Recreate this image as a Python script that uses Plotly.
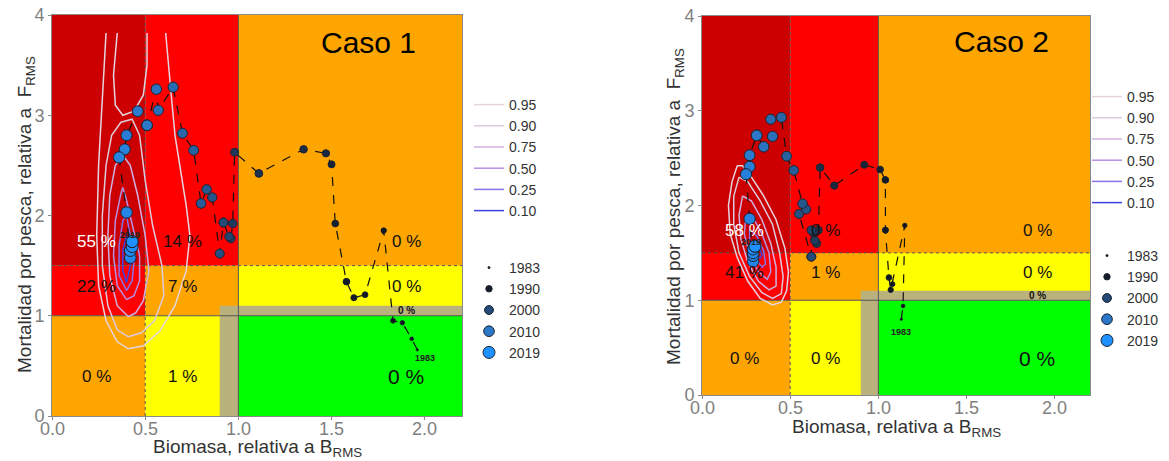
import plotly.graph_objects as go

# ---------------- data ----------------
years = list(range(1983, 2020))

# Caso 1 trajectory (B/Brms, F/Frms), 1983 -> 2019
b1 = [1.96, 1.93, 1.88, 1.83, 1.78, 1.68, 1.62, 1.58, 1.52, 1.50, 1.47, 1.35, 1.11,
      0.98, 0.97, 0.96, 0.95, 0.92, 0.90, 0.86, 0.83, 0.80, 0.76, 0.70, 0.65, 0.57,
      0.56, 0.51, 0.46, 0.40, 0.39, 0.36, 0.40, 0.42, 0.42, 0.43, 0.43]
f1 = [0.66, 0.77, 0.93, 0.95, 1.85, 1.21, 1.18, 1.34, 1.92, 2.51, 2.62, 2.66, 2.42,
      2.63, 1.92, 1.77, 1.79, 1.93, 1.62, 2.18, 2.26, 2.12, 2.65, 2.82, 3.28, 3.05,
      3.26, 2.90, 3.04, 2.80, 2.66, 2.58, 2.03, 1.58, 1.65, 1.69, 1.74]

# Caso 2 trajectory
b2 = [1.13, 1.14, 1.15, 1.08, 1.07, 1.06, 1.04, 1.04, 1.01, 0.92, 0.75, 0.67, 0.66,
      0.65, 0.64, 0.63, 0.62, 0.62, 0.55, 0.59, 0.57, 0.52, 0.48, 0.45, 0.39, 0.40,
      0.35, 0.31, 0.27, 0.27, 0.25, 0.27, 0.29, 0.29, 0.29, 0.29, 0.30]
f2 = [0.80, 0.94, 1.79, 1.17, 1.11, 1.24, 1.74, 2.27, 2.38, 2.43, 2.21, 2.40, 1.74,
      1.60, 1.63, 1.72, 1.74, 1.46, 1.91, 1.96, 2.02, 2.37, 2.52, 2.93, 2.91, 2.73,
      2.62, 2.74, 2.53, 2.41, 2.33, 1.86, 1.41, 1.47, 1.50, 1.54, 1.57]

legend_years = [1983, 1990, 2000, 2010, 2019]
level_labels = ["0.95", "0.90", "0.75", "0.50", "0.25", "0.10"]
x_tick_vals = [0, 0.5, 1, 1.5, 2]
x_tick_text = ["0.0", "0.5", "1.0", "1.5", "2.0"]
y_tick_vals = [0, 1, 2, 3, 4]

# percentages per zone (rows: F>1.5, 1<F<1.5, F<1 ; cols: B<0.5, 0.5-1, >1)
pct1 = ["55 %", "14 %", "0 %", "22 %", "7 %", "0 %", "0 %", "1 %", "0 %"]
pct1_band = "0 %"
pct2 = ["58 %", "0 %", "0 %", "41 %", "1 %", "0 %", "0 %", "0 %", "0 %"]
pct2_band = "0 %"

# density contour lines (lists of (B, F))
p1_c95 = [[(0.29, 3.82), (0.27, 3.2), (0.25, 2.5), (0.24, 1.8), (0.25, 1.3), (0.29, 0.95), (0.35, 0.74),
           (0.41, 0.67), (0.49, 0.70), (0.58, 0.85), (0.66, 1.1), (0.72, 1.45), (0.74, 1.8), (0.72, 2.1),
           (0.70, 2.35), (0.66, 2.8), (0.64, 3.2), (0.62, 3.6), (0.61, 3.82)],
          [(0.35, 3.82), (0.33, 3.4), (0.34, 3.1), (0.38, 3.0), (0.44, 3.04), (0.49, 3.2), (0.51, 3.5),
           (0.51, 3.82)]]
p1_c90 = [[(0.41, 0.79), (0.35, 0.86), (0.30, 1.1), (0.27, 1.5), (0.27, 2.0), (0.29, 2.5), (0.32, 2.8),
           (0.37, 2.93), (0.43, 2.96), (0.47, 2.8), (0.50, 2.35), (0.54, 1.9), (0.59, 1.5), (0.60, 1.2),
           (0.55, 0.95), (0.48, 0.83), (0.41, 0.79)]]
p1_c75 = [[(0.41, 0.99), (0.35, 1.1), (0.31, 1.4), (0.30, 1.8), (0.31, 2.2), (0.34, 2.5), (0.38, 2.6),
           (0.42, 2.5), (0.46, 2.2), (0.50, 1.8), (0.52, 1.45), (0.49, 1.15), (0.45, 1.03), (0.41, 0.99)]]
p1_c50 = [[(0.40, 1.16), (0.35, 1.3), (0.33, 1.6), (0.34, 1.95), (0.37, 2.22), (0.38, 2.28), (0.40, 2.15),
           (0.43, 1.9), (0.47, 1.6), (0.47, 1.35), (0.44, 1.2), (0.40, 1.16)]]
p1_c25 = [[(0.40, 1.25), (0.36, 1.4), (0.36, 1.7), (0.38, 1.95), (0.40, 2.0), (0.42, 1.8), (0.44, 1.55),
           (0.43, 1.35), (0.40, 1.25)]]
p1_c10 = [[(0.40, 1.33), (0.38, 1.45), (0.38, 1.65), (0.40, 1.8), (0.41, 1.7), (0.42, 1.5), (0.40, 1.33)]]

p2_c95 = [[(0.20, 2.42), (0.17, 2.25), (0.15, 2.0), (0.16, 1.7), (0.20, 1.45), (0.26, 1.2), (0.33, 1.02),
           (0.40, 0.95), (0.45, 0.98), (0.48, 1.1), (0.49, 1.3), (0.47, 1.55), (0.42, 1.85), (0.35, 2.1),
           (0.28, 2.3), (0.23, 2.42), (0.20, 2.42)]]
p2_c90 = [[(0.21, 2.30), (0.18, 2.1), (0.18, 1.8), (0.21, 1.5), (0.27, 1.25), (0.34, 1.08), (0.40, 1.02),
           (0.45, 1.07), (0.46, 1.25), (0.44, 1.5), (0.40, 1.8), (0.33, 2.05), (0.26, 2.25), (0.21, 2.30)]]
p2_c75 = [[(0.23, 2.1), (0.21, 1.9), (0.22, 1.65), (0.26, 1.4), (0.32, 1.2), (0.38, 1.11), (0.42, 1.15),
           (0.42, 1.35), (0.39, 1.6), (0.34, 1.85), (0.28, 2.05), (0.23, 2.1)]]
p2_c50 = [[(0.25, 1.9), (0.24, 1.7), (0.27, 1.48), (0.32, 1.3), (0.37, 1.22), (0.39, 1.3), (0.38, 1.5),
           (0.34, 1.7), (0.29, 1.87), (0.25, 1.9)]]
p2_c25 = [[(0.27, 1.75), (0.27, 1.6), (0.30, 1.45), (0.34, 1.35), (0.36, 1.38), (0.35, 1.52), (0.31, 1.68),
           (0.27, 1.75)]]
p2_c10 = [[(0.29, 1.64), (0.30, 1.52), (0.33, 1.44), (0.34, 1.48), (0.32, 1.58), (0.29, 1.64)]]

# ---------------- style ----------------
FONT = "Liberation Sans, Arial, sans-serif"
W, H = 1169, 461
level_colors = ["#e4d4e0", "#dccadc", "#d0b2e2", "#b890e2", "#8a70ea", "#4040e0"]
year_stops = [(1983, (14, 14, 20)), (1990, (20, 26, 38)), (2000, (36, 74, 120)),
              (2010, (44, 120, 200)), (2019, (30, 144, 255))]


def px(xp):
    return xp / W


def py(yp):
    return 1 - yp / H


def year_color(yr):
    for (y0, c0), (y1, c1) in zip(year_stops[:-1], year_stops[1:]):
        if y0 <= yr <= y1:
            t = (yr - y0) / (y1 - y0)
            c = [round(a + (b - a) * t) for a, b in zip(c0, c1)]
            return "rgb({},{},{})".format(*c)
    return "rgb(30,144,255)"


def year_size(yr):
    return 2 + 10 * ((yr - 1983) / 36) ** 0.5


fig = go.Figure()

panels = [
    dict(b=b1, f=f1, cont=[p1_c95, p1_c90, p1_c75, p1_c50, p1_c25, p1_c10], xa="x", ya="y",
         leg_c="legend", leg_y="legend2", pct=pct1, band=pct1_band, title="Caso 1",
         lab2019=(0.42, 1.81), lab1983=(2.0, 0.58), xlab_y=429),
    dict(b=b2, f=f2, cont=[p2_c95, p2_c90, p2_c75, p2_c50, p2_c25, p2_c10], xa="x2", ya="y2",
         leg_c="legend3", leg_y="legend4", pct=pct2, band=pct2_band, title="Caso 2",
         lab2019=(0.28, 1.62), lab1983=(1.13, 0.67), xlab_y=408),
]

shapes = []
annotations = []

zones = [  # x0,x1,y0,y1,color
    (0, 0.5, 1.5, 4, "#cc0000"), (0.5, 1.0, 1.5, 4, "#ff0000"), (1.0, 2.2, 1.5, 4, "#ffa500"),
    (0, 0.5, 1.0, 1.5, "#ff0000"), (0.5, 1.0, 1.0, 1.5, "#ffa500"), (1.0, 2.2, 1.0, 1.5, "#ffff00"),
    (0, 0.5, 0, 1.0, "#ffa500"), (0.5, 1.0, 0, 1.0, "#ffff00"), (1.0, 2.2, 0, 1.0, "#00ff00"),
]
pct_pos_x = [0.24, 0.70, 1.90]
pct_pos_y = [1.74, 1.29, 0.39]
tick_font = dict(family=FONT, size=18, color="#808080")

for p in panels:
    xa, ya = p["xa"], p["ya"]
    for x0, x1, y0, y1, c in zones:
        shapes.append(dict(type="rect", xref=xa, yref=ya, x0=x0, x1=x1, y0=y0, y1=y1,
                           fillcolor=c, line=dict(width=0), layer="below"))
    # khaki band
    shapes.append(dict(type="rect", xref=xa, yref=ya, x0=0.9, x1=1.0, y0=0, y1=1.1,
                       fillcolor="#bab27c", line=dict(width=0), layer="below"))
    shapes.append(dict(type="rect", xref=xa, yref=ya, x0=1.0, x1=2.2, y0=1.0, y1=1.1,
                       fillcolor="#bab27c", line=dict(width=0), layer="below"))
    # reference lines
    shapes.append(dict(type="line", xref=xa, yref=ya, x0=1, x1=1, y0=0, y1=4,
                       line=dict(color="#555555", width=1), layer="below"))
    shapes.append(dict(type="line", xref=xa, yref=ya, x0=0, x1=2.2, y0=1, y1=1,
                       line=dict(color="#555555", width=1), layer="below"))
    shapes.append(dict(type="line", xref=xa, yref=ya, x0=0.5, x1=0.5, y0=0, y1=4,
                       line=dict(color="#555555", width=1, dash="dot"), layer="below"))
    shapes.append(dict(type="line", xref=xa, yref=ya, x0=0, x1=2.2, y0=1.5, y1=1.5,
                       line=dict(color="#555555", width=1, dash="dot"), layer="below"))

    # contours
    for lab, col, lines in zip(level_labels, level_colors, p["cont"]):
        xs, ys = [], []
        for ln in lines:
            xs += [pt[0] for pt in ln] + [None]
            ys += [pt[1] for pt in ln] + [None]
        fig.add_trace(go.Scatter(x=xs, y=ys, mode="lines", name=lab, xaxis=xa, yaxis=ya,
                                 line=dict(color=col, width=1.5), legend=p["leg_c"],
                                 hoverinfo="skip"))

    # trajectory
    fig.add_trace(go.Scatter(x=p["b"], y=p["f"], mode="lines", xaxis=xa, yaxis=ya,
                             line=dict(color="#111111", width=1.2, dash="dash"),
                             showlegend=False, hoverinfo="skip"))
    fig.add_trace(go.Scatter(x=p["b"], y=p["f"], mode="markers", xaxis=xa, yaxis=ya,
                             marker=dict(color=[year_color(y) for y in years],
                                         size=[year_size(y) for y in years], opacity=1,
                                         line=dict(color="#1b2431", width=1)),
                             showlegend=False, hoverinfo="skip"))
    for yr in legend_years:
        i = years.index(yr)
        fig.add_trace(go.Scatter(x=[p["b"][i]], y=[p["f"][i]], mode="markers", name=str(yr),
                                 xaxis=xa, yaxis=ya, legend=p["leg_y"],
                                 marker=dict(color=year_color(yr), size=year_size(yr), opacity=1,
                                             line=dict(color="#1b2431", width=1)),
                                 hoverinfo="skip"))

    # x tick labels (placed close to the axis, as in the reference)
    for tv, tt in zip(x_tick_vals, x_tick_text):
        annotations.append(dict(x=tv, y=py(p["xlab_y"]), xref=xa, yref="paper", text=tt,
                                showarrow=False, xanchor="center", yanchor="middle",
                                font=tick_font))

    # percentages
    k = 0
    for yy in pct_pos_y:
        for xx in pct_pos_x:
            txt = p["pct"][k]
            col = "white" if k == 0 else "#111111"
            size = 21 if k == 8 else 17
            annotations.append(dict(x=xx, y=yy, xref=xa, yref=ya, text=txt, showarrow=False,
                                    font=dict(family=FONT, size=size, color=col)))
            k += 1
    annotations.append(dict(x=1.90, y=1.05, xref=xa, yref=ya, text="<b>" + p["band"] + "</b>",
                            showarrow=False, font=dict(family=FONT, size=10, color="#111111")))
    annotations.append(dict(x=1.70, y=3.73, xref=xa, yref=ya, text=p["title"], showarrow=False,
                            font=dict(family=FONT, size=30, color="#000000")))
    annotations.append(dict(x=p["lab2019"][0], y=p["lab2019"][1], xref=xa, yref=ya,
                            text="<b>%d</b>" % years[-1], showarrow=False,
                            font=dict(family=FONT, size=9, color="#222222")))
    annotations.append(dict(x=p["lab1983"][0], y=p["lab1983"][1], xref=xa, yref=ya,
                            text="<b>%d</b>" % years[0], showarrow=False,
                            font=dict(family=FONT, size=9, color="#222222")))

ytitle = "Mortalidad por pesca, relativa a  F<sub>RMS</sub>"
xtitle = "Biomasa, relativa a B<sub>RMS</sub>"
title_font = dict(family=FONT, size=19, color="#333333")
annotations += [
    dict(x=px(257), y=py(448), xref="paper", yref="paper", text=xtitle, showarrow=False,
         xanchor="center", yanchor="middle", font=title_font),
    dict(x=px(26), y=py(215), xref="paper", yref="paper", text=ytitle, showarrow=False,
         xanchor="center", yanchor="middle", textangle=-90, font=title_font),
    dict(x=px(896), y=py(428), xref="paper", yref="paper", text=xtitle, showarrow=False,
         xanchor="center", yanchor="middle", font=title_font),
    dict(x=px(675), y=py(207), xref="paper", yref="paper", text=ytitle, showarrow=False,
         xanchor="center", yanchor="middle", textangle=-90, font=title_font),
]

axis_common = dict(showgrid=False, zeroline=False, showline=True, mirror=True, linecolor="#8a8a8a",
                   linewidth=1, ticks="outside", ticklen=3, tickcolor="#8a8a8a",
                   tickfont=tick_font, automargin=False, fixedrange=True)
xticks = dict(tickvals=x_tick_vals, showticklabels=False, range=[0, 2.2])
yticks = dict(tickvals=y_tick_vals, range=[0, 4])

leg_common = dict(bgcolor="rgba(0,0,0,0)", font=dict(family=FONT, size=14, color="#333333"),
                  itemwidth=30, tracegroupgap=0, xanchor="left", yanchor="top")

fig.update_layout(
    width=W, height=H, margin=dict(l=0, r=0, t=0, b=0),
    paper_bgcolor="white", plot_bgcolor="white", hovermode=False,
    xaxis=dict(domain=[px(52), px(462)], anchor="y", **xticks, **axis_common),
    yaxis=dict(domain=[py(416), py(15)], anchor="x", **yticks, **axis_common),
    xaxis2=dict(domain=[px(702), px(1090)], anchor="y2", **xticks, **axis_common),
    yaxis2=dict(domain=[py(395), py(16)], anchor="x2", **yticks, **axis_common),
    shapes=shapes, annotations=annotations,
    legend=dict(x=px(469), y=py(89), **leg_common),
    legend2=dict(x=px(469), y=py(252), **leg_common),
    legend3=dict(x=px(1087), y=py(81), **leg_common),
    legend4=dict(x=px(1087), y=py(240), **leg_common),
)

fig.write_html("out.html")
